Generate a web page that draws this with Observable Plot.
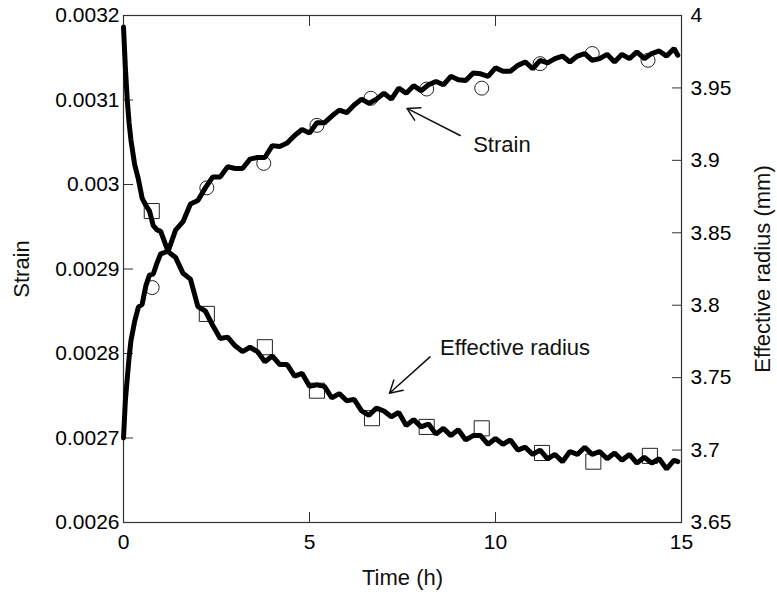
<!DOCTYPE html>
<html>
<head>
<meta charset="utf-8">
<script src="https://cdn.jsdelivr.net/npm/d3@7"></script>
<script src="https://cdn.jsdelivr.net/npm/@observablehq/plot@0.6"></script>
<style>
  html, body { margin: 0; padding: 0; background: #fff; }
  #chart svg { display: block; }
</style>
</head>
<body>
<div id="chart"></div>
<script>
// ---- data ----
const time = [0,0.05,0.1,0.15,0.2,0.3,0.4,0.5,0.6,0.7,0.8,0.9,1.0,
  1.2,1.4,1.6,1.8,2.0,2.2,2.4,2.6,2.8,3.0,3.2,3.4,3.6,3.8,4.0,4.2,4.4,4.6,4.8,
  5.0,5.2,5.4,5.6,5.8,6.0,6.2,6.4,6.6,6.8,7.0,7.2,7.4,7.6,7.8,8.0,8.2,8.4,8.6,8.8,
  9.0,9.2,9.4,9.6,9.8,10.0,10.2,10.4,10.6,10.8,11.0,11.2,11.4,11.6,11.8,12.0,12.2,
  12.4,12.6,12.8,13.0,13.2,13.4,13.6,13.8,14.0,14.2,14.4,14.6,14.8,14.9];

const strain = [0.002700,0.002744,0.002770,0.002795,0.002815,0.002838,0.002855,0.002858,0.002880,0.002893,0.002894,0.002907,0.002918,
  0.002921,0.002946,0.002956,0.002977,0.002981,0.002996,0.003009,0.003009,0.003021,0.003019,0.003019,0.003030,0.003032,0.003032,0.003046,0.003045,0.003049,0.003058,0.003065,
  0.003061,0.003073,0.003073,0.003081,0.003088,0.003085,0.003094,0.003101,0.003096,0.003101,0.003108,0.003101,0.003114,0.003108,0.003117,0.003111,0.003118,0.003122,0.003118,0.003128,
  0.003124,0.003123,0.003132,0.003131,0.003128,0.003138,0.003134,0.003134,0.003141,0.003145,0.003137,0.003147,0.003144,0.003149,0.003152,0.003145,0.003152,
  0.003155,0.003147,0.003149,0.003154,0.003145,0.003154,0.003149,0.003157,0.003149,0.003155,0.003158,0.003152,0.003161,0.003153];

const radius = [3.992,3.964,3.942,3.926,3.914,3.897,3.887,3.874,3.869,3.865,3.855,3.852,3.851,
  3.837,3.833,3.822,3.818,3.799,3.796,3.786,3.777,3.778,3.772,3.768,3.771,3.768,3.761,3.765,3.759,3.759,3.751,3.753,
  3.744,3.745,3.744,3.736,3.739,3.734,3.735,3.727,3.724,3.729,3.727,3.723,3.726,3.717,3.721,3.716,3.718,3.711,3.715,3.710,
  3.714,3.707,3.710,3.710,3.704,3.708,3.704,3.707,3.700,3.702,3.697,3.700,3.694,3.697,3.692,3.699,3.697,
  3.702,3.697,3.699,3.694,3.698,3.693,3.697,3.691,3.695,3.691,3.694,3.687,3.693,3.692];

// open-marker series
const circleTime   = [0.77,2.24,3.77,5.2,6.65,8.15,9.63,11.2,12.6,14.1];
const circleStrain = [0.002878,0.002996,0.003025,0.003070,0.003102,0.003113,0.003114,0.003143,0.003155,0.003147];
const squareTime   = [0.76,2.24,3.8,5.2,6.68,8.15,9.63,11.25,12.63,14.15];
const squareRadius = [3.865,3.794,3.771,3.741,3.722,3.716,3.715,3.698,3.692,3.696];

// axes
const timeTicks   = [0,5,10,15];
const strainTicks = [0.0026,0.0027,0.0028,0.0029,0.003,0.0031,0.0032];
const strainTickLabels = ["0.0026","0.0027","0.0028","0.0029","0.003","0.0031","0.0032"];
const radiusTicks = [3.65,3.7,3.75,3.8,3.85,3.9,3.95,4];
const radiusTickLabels = ["3.65","3.7","3.75","3.8","3.85","3.9","3.95","4"];
const strainDomain = [0.0026,0.0032];
const radiusDomain = [3.65,4];

// annotations (time, strain-axis units)
const annLabels = ["Strain","Effective radius"];
const annTextT  = [9.4, 8.51];
const annTextS  = [0.003047, 0.002807];
const annFromT  = [9.05, 8.24];
const annFromS  = [0.003058, 0.002796];
const annToT    = [7.62, 7.15];
const annToS    = [0.003090, 0.002753];

// ---- build ----
const r2s = d3.scaleLinear().domain(radiusDomain).range(strainDomain);
const lineStrain = time.map((t,i) => ({t, v: strain[i]}));
const lineRadius = time.map((t,i) => ({t, v: r2s(radius[i])}));
const circles = circleTime.map((t,i) => ({t, v: circleStrain[i]}));
const squares = squareTime.map((t,i) => ({t, v: r2s(squareRadius[i])}));
const anns = annLabels.map((s,i) => ({s, tx: annTextT[i], ty: annTextS[i], x1: annFromT[i], y1: annFromS[i], x2: annToT[i], y2: annToS[i]}));
const leftFmt = d => strainTickLabels[strainTicks.findIndex(v => Math.abs(v - d) < 1e-9)];
const rightFmt = d => radiusTickLabels[radiusTicks.findIndex(v => Math.abs(r2s(v) - d) < 1e-9)];

const axisColor = "#333";
const chart = Plot.plot({
  width: 777, height: 598,
  marginLeft: 123, marginRight: 96, marginTop: 15, marginBottom: 76,
  x: {domain: [0, 15]},
  y: {domain: strainDomain},
  style: {fontFamily: "'Liberation Sans', Arial, Helvetica, sans-serif", fontSize: "21px", color: "#000", background: "#fff"},
  marks: [
    Plot.frame({stroke: axisColor, strokeWidth: 1.2}),
    Plot.axisX({anchor: "bottom", ticks: timeTicks, tickSize: -10, tickPadding: 22, tickFormat: d => String(d), label: null, stroke: axisColor, fontSize: 21}),
    Plot.axisX({anchor: "top", ticks: timeTicks, tickSize: -10, tickFormat: () => "", label: null, stroke: axisColor}),
    Plot.axisY({anchor: "left", ticks: strainTicks, tickSize: -10, tickPadding: 14, tickFormat: leftFmt, label: null, stroke: axisColor, fontSize: 21}),
    Plot.axisY({anchor: "right", ticks: radiusTicks.map(r2s), tickSize: -10, tickPadding: 19, tickFormat: rightFmt, label: null, stroke: axisColor, fontSize: 21}),
    Plot.dot(circles, {x: "t", y: "v", symbol: "circle", r: 7, stroke: "#222", strokeWidth: 1, fill: "none"}),
    Plot.dot(squares, {x: "t", y: "v", symbol: "square", r: 8.5, stroke: "#222", strokeWidth: 1, fill: "none"}),
    Plot.line(lineStrain, {x: "t", y: "v", stroke: "#000", strokeWidth: 5, strokeLinejoin: "miter"}),
    Plot.line(lineRadius, {x: "t", y: "v", stroke: "#000", strokeWidth: 5, strokeLinejoin: "miter"}),
    Plot.arrow(anns, {x1: "x1", y1: "y1", x2: "x2", y2: "y2", stroke: "#111", strokeWidth: 1.5, headLength: 14, bend: 0}),
    Plot.text(anns, {x: "tx", y: "ty", text: "s", textAnchor: "start", lineAnchor: "middle", fontSize: 22, fill: "#111"}),
    Plot.text(["Time (h)"], {frameAnchor: "bottom", dy: 55, textAnchor: "middle", lineAnchor: "middle", fontSize: 22, fill: "#111"}),
    Plot.text(["Strain"], {frameAnchor: "left", dx: -102, rotate: -90, textAnchor: "middle", lineAnchor: "middle", fontSize: 22, fill: "#111"}),
    Plot.text(["Effective radius (mm)"], {frameAnchor: "right", dx: 81, rotate: -90, textAnchor: "middle", lineAnchor: "middle", fontSize: 22, fill: "#111"})
  ]
});
document.getElementById("chart").appendChild(chart);
</script>
</body>
</html>
